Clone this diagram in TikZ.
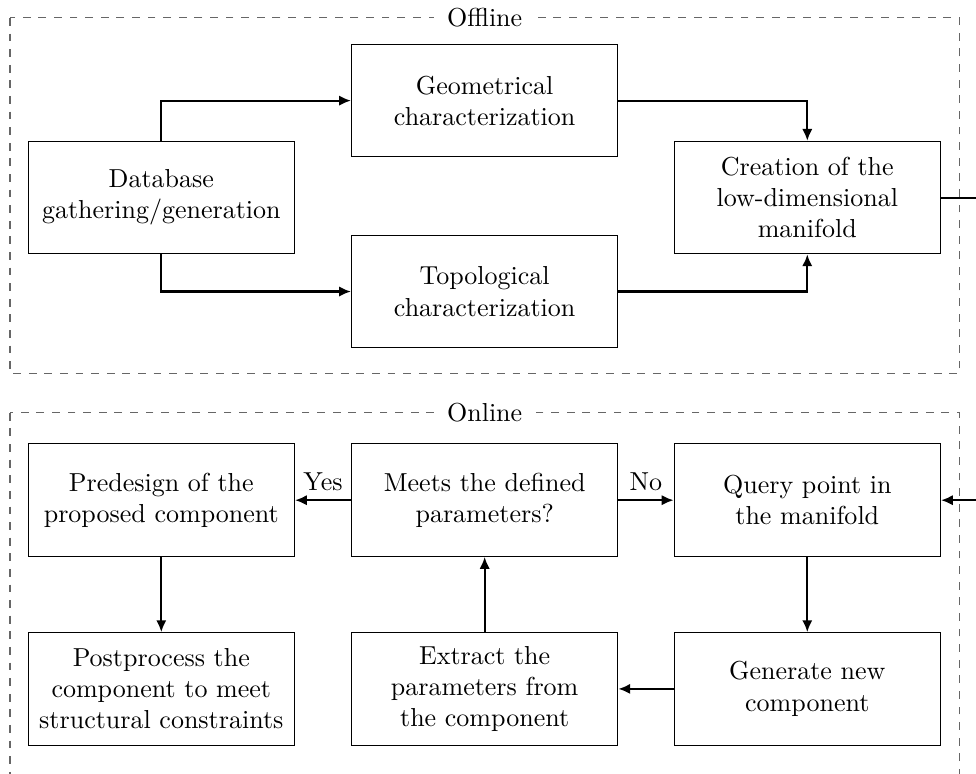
\documentclass[tikz,border=0pt]{standalone}
\usepackage{tikz}
\usetikzlibrary{positioning, arrows.meta}
\tikzset{block/.style={draw, minimum width=3.6cm, minimum height=1.52cm, align=center},
         phase/.style={draw, gray!80!black, dashed},
         phaselabel/.style={fill=white, inner sep=5pt},
         flow/.style={->, >={Latex[length=1.6mm, width=1.4mm]}, thick},
        }

\begin{document}
\begin{tikzpicture}
        \useasboundingbox (0,0) rectangle (13.19,-10.46);
        \clip (0,0) rectangle (13.19,-10.46);

        \draw[phase](0.135,-0.243) rectangle (12.97,-5.05);
        \node[phaselabel](offline)at(6.55,-0.243){Offline};
        \draw[phase](0.135,-5.58) rectangle (12.97,-10.9);
        \node[phaselabel](online)at(6.55,-5.58){Online};

        \node[block](db)at(2.18,-2.67){Database\\gathering/generation};
        \node[block](geo)at(6.55,-1.36){Geometrical\\characterization};
        \node[block](topo)at(6.55,-3.94){Topological\\characterization};
        \node[block](man)at(10.91,-2.67){Creation of the\\low-dimensional\\manifold};

        \draw[flow](db.north)|-(geo.west);
        \draw[flow](db.south)|-(topo.west);
        \draw[flow](geo.east)-|(man.north);
        \draw[flow](topo.east)-|(man.south);

        \node[block](pre)at(2.18,-6.76){Predesign of the\\proposed component};
        \node[block](meet)at(6.55,-6.76){Meets the defined\\parameters?};
        \node[block](query)at(10.91,-6.76){Query point in\\the manifold};
        \node[block](post)at(2.18,-9.31){Postprocess the\\component to meet\\structural constraints};
        \node[block](extr)at(6.55,-9.31){Extract the\\parameters from\\the component};
        \node[block](gen)at(10.91,-9.31){Generate new\\component};

        \coordinate(back)at(13.5,-2.67);
        \draw[flow](man.east)--(back)|-(query.east);
        \draw[flow](meet.west)--node[above]{Yes}(pre.east);
        \draw[flow](meet.east)--node[above]{No}(query.west);
        \draw[flow](pre.south)--(post.north);
        \draw[flow](query.south)--(gen.north);
        \draw[flow](gen.west)--(extr.east);
        \draw[flow](extr.north)--(meet.south);
    \end{tikzpicture}
\end{document}
